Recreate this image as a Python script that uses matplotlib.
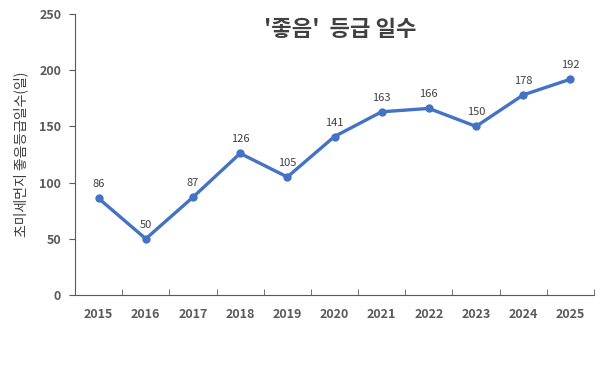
import numpy as np
import matplotlib.pyplot as plt

plt.rcParams['font.family'] = ['Noto Sans CJK KR', 'DejaVu Sans']

years = ['2015', '2016', '2017', '2018', '2019', '2020', '2021', '2022', '2023', '2024', '2025']
days = [86, 50, 87, 126, 105, 141, 163, 166, 150, 178, 192]

fig = plt.figure(figsize=(6.07, 3.72), dpi=100)
ax = fig.add_axes([75 / 607, 77 / 372, 519 / 607, 281 / 372])

x = np.arange(len(years))
ax.plot(x, days, color='#4472C4', lw=2.4, marker='o', ms=5)
for xi, v in zip(x, days):
    ax.text(xi, v + 8, str(v), ha='center', va='bottom', fontsize=8, color='#404040')

ax.set_xlim(-0.5, len(years) - 0.5)
ax.set_ylim(0, 250)
ax.set_yticks(range(0, 251, 50))
ax.set_xticks(x)
ax.set_xticklabels(years)
ax.set_xticks(np.arange(-0.5, len(years)), minor=True)
ax.tick_params(axis='x', which='major', length=0, pad=9)
ax.tick_params(axis='x', which='minor', length=4, direction='in', color='#595959')
ax.tick_params(axis='y', length=4, color='#595959', pad=6)
for lab in ax.get_xticklabels() + ax.get_yticklabels():
    lab.set_fontweight('bold')
    lab.set_color('#595959')
    lab.set_fontsize(9)

for s in ['top', 'right']:
    ax.spines[s].set_visible(False)
for s in ['left', 'bottom']:
    ax.spines[s].set_color('#595959')

ax.set_ylabel('초미세먼지 좋음등급일수(일)', fontsize=10, color='#404040', labelpad=8)
fig.text(340 / 607, 1 - 30 / 372, "'좋음'  등급 일수", ha='center', va='center',
         fontsize=16, fontweight='bold', color='#404040')

fig.savefig('out.png', dpi=100)
